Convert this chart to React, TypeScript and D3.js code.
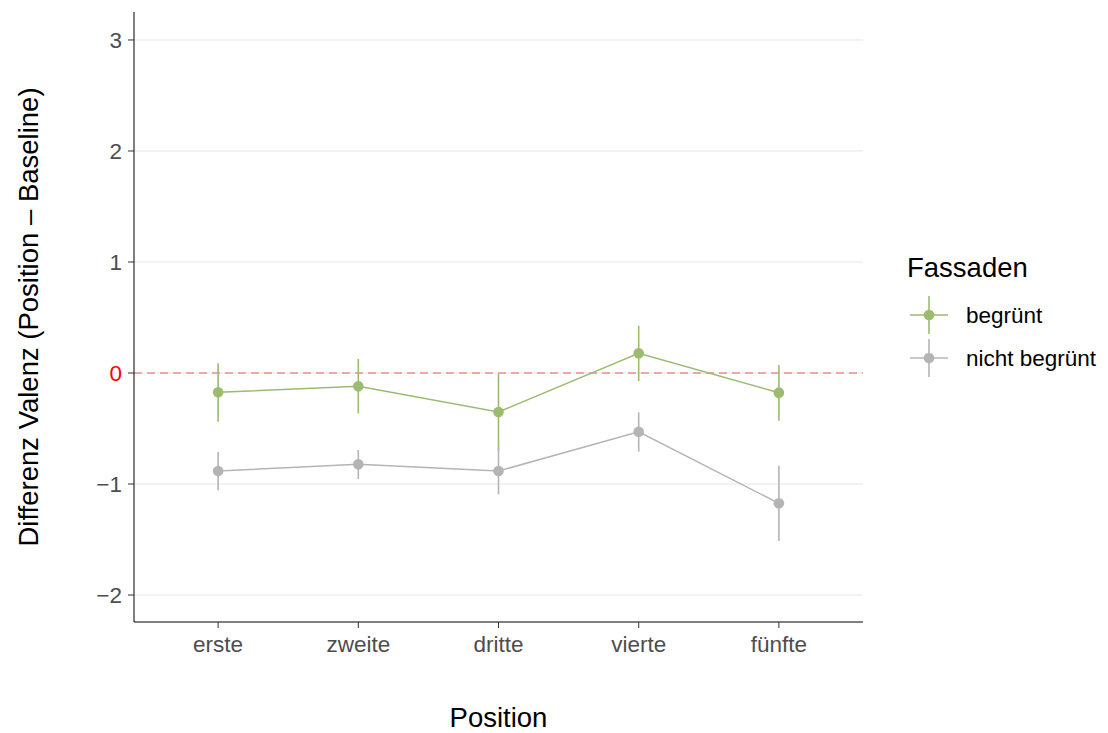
import React from "react";
import * as d3 from "d3";

const positions = ["erste", "zweite", "dritte", "vierte", "fünfte"];
const groups = ["begrünt", "nicht begrünt"];
const groupColors = ["#9bbb6e", "#b4b4b4"];

const meanGreen = [-0.174, -0.12, -0.351, 0.177, -0.177];
const lowerGreen = [-0.439, -0.363, -0.7, -0.072, -0.43];
const upperGreen = [0.087, 0.126, -0.006, 0.426, 0.072];

const meanGrey = [-0.883, -0.823, -0.883, -0.529, -1.174];
const lowerGrey = [-1.057, -0.955, -1.093, -0.709, -1.514];
const upperGrey = [-0.712, -0.694, -0.67, -0.354, -0.835];

const yTicks = [-2, -1, 0, 1, 2, 3];

const W = 1108;
const H = 733;
const margin = { left: 134, right: 245, top: 12, bottom: 111 };
const FONT = "'Liberation Sans', Arial, Helvetica, sans-serif";
const TICK_SIZE = 22.5;
const TITLE_SIZE = 27.5;

export default function App() {
  const x = d3
    .scalePoint<string>()
    .domain(positions)
    .range([margin.left, W - margin.right])
    .padding(0.6);
  const y = d3
    .scaleLinear()
    .domain([-2.243, 3.252])
    .range([H - margin.bottom, margin.top]);

  const series = [
    { mean: meanGreen, lo: lowerGreen, hi: upperGreen, color: groupColors[0] },
    { mean: meanGrey, lo: lowerGrey, hi: upperGrey, color: groupColors[1] },
  ];

  const line = d3
    .line<number>()
    .x((_, i) => x(positions[i]) as number)
    .y((d) => y(d));

  const x0 = margin.left;
  const x1 = W - margin.right;
  const yBottom = H - margin.bottom;

  return (
    <svg width={W} height={H} style={{ display: "block", position: "absolute", left: 0, top: 0 }} fontFamily={FONT}>
      <rect width={W} height={H} fill="#ffffff" />
      {yTicks.map((t) => (
        <line key={"g" + t} x1={x0} x2={x1} y1={y(t)} y2={y(t)} stroke="#e6e6e6" strokeWidth={1} />
      ))}
      <line x1={x0} x2={x1} y1={y(0)} y2={y(0)} stroke="#f04848" strokeWidth={1} strokeDasharray="8,5" opacity={0.9} />
      {series.map((s, si) => (
        <g key={si}>
          <path d={line(s.mean) || ""} fill="none" stroke={s.color} strokeWidth={1.5} />
          {s.mean.map((m, i) => (
            <g key={i}>
              <line
                x1={x(positions[i])}
                x2={x(positions[i])}
                y1={y(s.lo[i])}
                y2={y(s.hi[i])}
                stroke={s.color}
                strokeWidth={1.6}
              />
              <circle cx={x(positions[i])} cy={y(m)} r={5.3} fill={s.color} />
            </g>
          ))}
        </g>
      ))}
      {/* axes */}
      <line x1={x0} x2={x0} y1={margin.top} y2={yBottom} stroke="#000" strokeWidth={1} />
      <line x1={x0} x2={x1} y1={yBottom} y2={yBottom} stroke="#000" strokeWidth={1} />
      {yTicks.map((t) => (
        <g key={"t" + t}>
          <line x1={x0 - 6} x2={x0} y1={y(t)} y2={y(t)} stroke="#333" strokeWidth={1} />
          <text
            x={x0 - 12}
            y={y(t)}
            dy="0.36em"
            textAnchor="end"
            fontSize={TICK_SIZE}
            fill={t === 0 ? "#ff0000" : "#4d4d4d"}
          >
            {t < 0 ? "\u2212" + Math.abs(t) : String(t)}
          </text>
        </g>
      ))}
      {positions.map((p) => (
        <g key={p}>
          <line x1={x(p)} x2={x(p)} y1={yBottom} y2={yBottom + 6} stroke="#333" strokeWidth={1} />
          <text x={x(p)} y={652} textAnchor="middle" fontSize={TICK_SIZE} fill="#4d4d4d">
            {p}
          </text>
        </g>
      ))}
      <text x={(x0 + x1) / 2} y={727} textAnchor="middle" fontSize={TITLE_SIZE} fill="#000">
        Position
      </text>
      <text
        transform={`translate(38, ${(margin.top + yBottom) / 2}) rotate(-90)`}
        textAnchor="middle"
        fontSize={TITLE_SIZE}
        fill="#000"
      >
        Differenz Valenz (Position – Baseline)
      </text>
      {/* legend */}
      <text x={907} y={277} fontSize={TITLE_SIZE} fill="#000">
        Fassaden
      </text>
      {groups.map((g, i) => {
        const cy = 315 + i * 43;
        const cx = 929;
        return (
          <g key={g}>
            <line x1={cx - 19} x2={cx + 19} y1={cy} y2={cy} stroke={groupColors[i]} strokeWidth={1.6} />
            <line x1={cx} x2={cx} y1={cy - 19} y2={cy + 19} stroke={groupColors[i]} strokeWidth={1.6} />
            <circle cx={cx} cy={cy} r={5.3} fill={groupColors[i]} />
            <text x={966} y={cy} dy="0.36em" fontSize={TICK_SIZE} fill="#000">
              {g}
            </text>
          </g>
        );
      })}
    </svg>
  );
}
